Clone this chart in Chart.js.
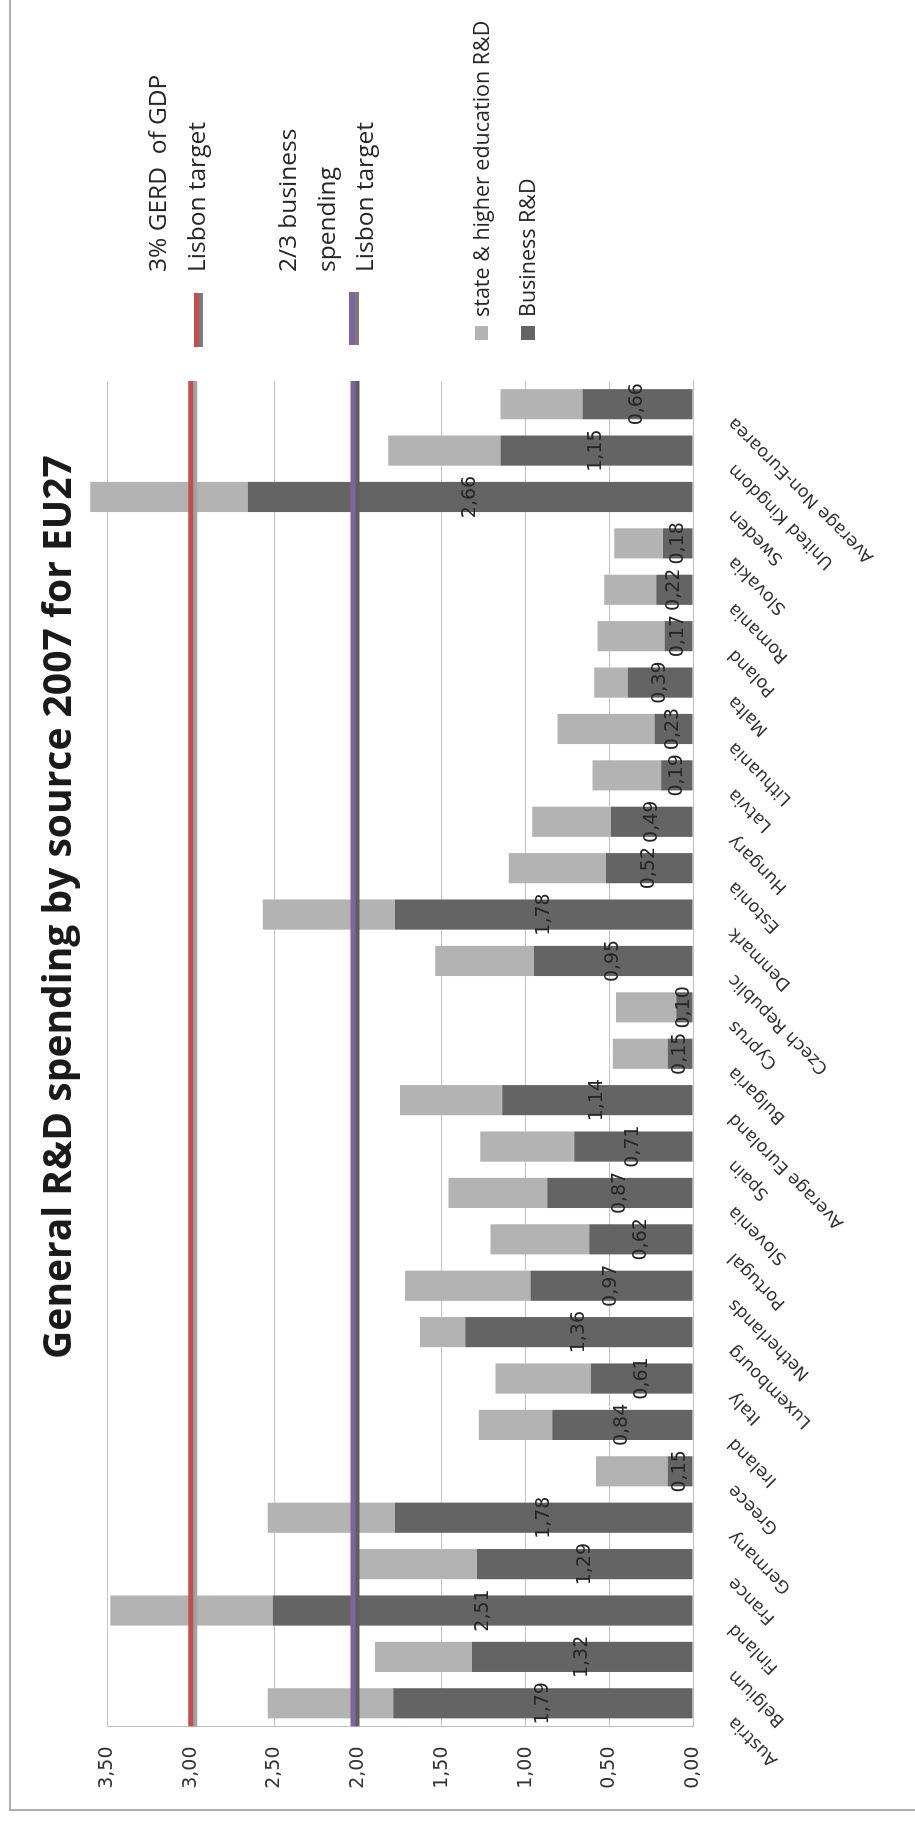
<!DOCTYPE html>
<html>
<head>
<meta charset="utf-8">
<title>General R&amp;D spending by source 2007 for EU27</title>
<script src="https://cdn.jsdelivr.net/npm/chart.js@4.4.1/dist/chart.umd.min.js"></script>
<style>
  html, body { margin: 0; padding: 0; background: #ffffff; }
  body { width: 915px; height: 1821px; overflow: hidden; position: relative; }
  /* the chart is laid out landscape and turned a quarter turn */
  #frame {
    position: absolute; left: 0; top: 0;
    width: 1821px; height: 915px;
    transform-origin: 0 0;
    transform: translate(0, 1821px) rotate(-90deg);
    background: #ffffff;
  }
  #wrap { position: absolute; left: 0; top: 0; width: 1821px; height: 915px; }
  #border {
    position: absolute; left: 10px; top: 9px; right: -6px; bottom: -6px;
    border: 2px solid #ADADAD; pointer-events: none;
  }
</style>
</head>
<body>
<div id="frame">
  <div id="wrap"><canvas id="chart"></canvas></div>
  <div id="border"></div>
</div>
<script>
// Countries and group averages, left to right
const categories = [
  'Austria', 'Belgium', 'Finland', 'France', 'Germany', 'Greece', 'Ireland',
  'Italy', 'Luxembourg', 'Netherlands', 'Portugal', 'Slovenia', 'Spain',
  'Average Euroland', 'Bulgaria', 'Cyprus', 'Czech Republic', 'Denmark',
  'Estonia', 'Hungary', 'Latvia', 'Lithuania', 'Malta', 'Poland', 'Romania',
  'Slovakia', 'Sweden', 'United Kingdom', 'Average Non-Euroarea'
];

// Business enterprise R&D, % of GDP
const businessRD = [
  1.79, 1.32, 2.51, 1.29, 1.78, 0.15, 0.84,
  0.61, 1.36, 0.97, 0.62, 0.87, 0.71,
  1.14, 0.15, 0.10, 0.95, 1.78,
  0.52, 0.49, 0.19, 0.23, 0.39, 0.17, 0.22,
  0.18, 2.66, 1.15, 0.66
];

// State & higher education R&D, % of GDP (stacked on top of business)
const stateHigherEdRD = [
  0.75, 0.58, 0.97, 0.73, 0.76, 0.43, 0.44,
  0.57, 0.27, 0.75, 0.59, 0.59, 0.56,
  0.61, 0.33, 0.36, 0.59, 0.79,
  0.58, 0.47, 0.41, 0.58, 0.20, 0.40, 0.31,
  0.29, 0.94, 0.67, 0.49
];

// Lisbon targets, % of GDP
const lisbonGerdTarget = 3.0;
const lisbonBusinessTarget = 2.03;

// Value axis tick labels
const valueTickLabels = ['0,00', '0,50', '1,00', '1,50', '2,00', '2,50', '3,00', '3,50'];

const chartTitle = 'General R&D spending by source 2007 for EU27';
const gerdTargetLines = ['3% GERD  of GDP', 'Lisbon target'];
const businessTargetLines = ['2/3 business', 'spending', 'Lisbon target'];

const COLORS = {
  business: '#646464',
  state: '#B3B3B3',
  gerd: '#C0504D',
  target: '#8064A2',
  grid: '#C4C4C4',
  text: '#262626'
};

const fmt = v => v.toFixed(2).replace('.', ',');

// Gives the target lines their offset grey shadow
const lineShadow = {
  id: 'lineShadow',
  beforeDatasetDraw(chart, args) {
    const ds = chart.data.datasets[args.index];
    if (ds.type !== 'line') return;
    const ctx = chart.ctx;
    ctx.save();
    ctx.shadowColor = ds.shadowColor;
    ctx.shadowOffsetX = 0;
    ctx.shadowOffsetY = 4;
    ctx.shadowBlur = 0;
  },
  afterDatasetDraw(chart, args) {
    if (chart.data.datasets[args.index].type === 'line') chart.ctx.restore();
  }
};

// Value labels in the middle of the business R&D segments
const barValueLabels = {
  id: 'barValueLabels',
  afterDatasetsDraw(chart) {
    const idx = chart.data.datasets.findIndex(d => d.label === 'Business R&D');
    const meta = chart.getDatasetMeta(idx);
    const ctx = chart.ctx;
    ctx.save();
    ctx.font = '19px "DejaVu Sans"';
    ctx.fillStyle = COLORS.text;
    ctx.textAlign = 'center';
    ctx.textBaseline = 'middle';
    meta.data.forEach((bar, i) => {
      const p = bar.getProps(['x', 'y', 'base'], true);
      ctx.fillText(fmt(businessRD[i]), p.x, (p.y + p.base) / 2);
    });
    ctx.restore();
  }
};

// Title and key on the right-hand side
const titleAndKey = {
  id: 'titleAndKey',
  afterDraw(chart) {
    const ctx = chart.ctx;
    ctx.save();
    ctx.fillStyle = '#1a1a1a';
    ctx.font = 'bold 39px "Open Sans"';
    ctx.textAlign = 'center';
    ctx.textBaseline = 'alphabetic';
    ctx.fillText(chartTitle, 914, 71);

    ctx.font = '24.5px "Open Sans"';
    ctx.textAlign = 'left';
    ctx.fillStyle = COLORS.text;

    // 3% GERD target
    [166, 205].forEach((y, i) => ctx.fillText(gerdTargetLines[i], 1549, y));
    ctx.fillStyle = COLORS.gerd;
    ctx.fillRect(1474, 194, 54, 5);
    ctx.fillStyle = '#7a7a7a';
    ctx.fillRect(1474, 199, 54, 4);

    // business target
    ctx.fillStyle = COLORS.text;
    [296, 335, 373].forEach((y, i) => ctx.fillText(businessTargetLines[i], 1549, y));
    ctx.fillStyle = COLORS.target;
    ctx.fillRect(1476, 349, 53, 6);
    ctx.fillStyle = '#7a7a7a';
    ctx.fillRect(1476, 355, 53, 4);

    // bar series
    ctx.fillStyle = COLORS.state;
    ctx.fillRect(1481, 475, 14, 13);
    ctx.fillStyle = COLORS.business;
    ctx.fillRect(1481, 521, 14, 14);
    ctx.font = '21.5px "Open Sans"';
    ctx.fillStyle = COLORS.text;
    ctx.fillText('state & higher education R&D', 1504, 489);
    ctx.fillText('Business R&D', 1504, 535);
    ctx.restore();
  }
};

new Chart(document.getElementById('chart'), {
  type: 'bar',
  data: {
    labels: categories,
    datasets: [
      {
        type: 'line',
        label: gerdTargetLines.join(' '),
        data: [{ x: 0, y: lisbonGerdTarget }, { x: categories.length, y: lisbonGerdTarget }],
        xAxisID: 'xLine', yAxisID: 'y',
        borderColor: COLORS.gerd, borderWidth: 5, pointRadius: 0,
        stack: 'gerdTarget', shadowColor: '#A3A3A3', order: 0
      },
      {
        type: 'line',
        label: businessTargetLines.join(' '),
        data: [{ x: 0, y: lisbonBusinessTarget }, { x: categories.length, y: lisbonBusinessTarget }],
        xAxisID: 'xLine', yAxisID: 'y',
        borderColor: COLORS.target, borderWidth: 5, pointRadius: 0,
        stack: 'businessTarget', shadowColor: '#5E5E5E', order: 0
      },
      {
        label: 'Business R&D',
        data: businessRD,
        backgroundColor: COLORS.business,
        xAxisID: 'x', yAxisID: 'y',
        stack: 'rd', order: 1, grouped: false, clip: false,
        barPercentage: 1, categoryPercentage: 0.65
      },
      {
        label: 'state & higher education R&D',
        data: stateHigherEdRD,
        backgroundColor: COLORS.state,
        xAxisID: 'x', yAxisID: 'y',
        stack: 'rd', order: 1, grouped: false, clip: false,
        barPercentage: 1, categoryPercentage: 0.65
      }
    ]
  },
  options: {
    responsive: true,
    maintainAspectRatio: false,
    animation: false,
    devicePixelRatio: 1,
    layout: { padding: { top: 107, right: 381, left: 0, bottom: 0 } },
    plugins: {
      legend: { display: false },
      tooltip: { enabled: false },
      title: { display: false }
    },
    scales: {
      x: {
        type: 'category',
        stacked: true,
        offset: true,
        grid: { display: false, drawTicks: false },
        border: { display: true, color: '#BFBFBF', width: 1 },
        ticks: {
          autoSkip: false, maxRotation: 45, minRotation: 45, padding: 31, labelOffset: -16,
          color: '#333333', font: { family: 'DejaVu Sans', size: 17.5 }
        },
        afterFit(scale) { scale.height = 222; }
      },
      xLine: {
        type: 'linear', display: false, offset: false,
        min: 0, max: categories.length,
        grid: { offset: false }
      },
      y: {
        type: 'linear',
        stacked: true,
        min: 0, max: 3.5,
        ticks: {
          stepSize: 0.5, padding: 20,
          callback: v => valueTickLabels[Math.round(v / 0.5)],
          color: '#333333', font: { family: 'DejaVu Sans', size: 19 }
        },
        grid: { color: COLORS.grid, lineWidth: 1, drawTicks: false },
        border: { display: true, color: '#BFBFBF', width: 1 },
        afterFit(scale) { scale.width = 94.5; }
      }
    }
  },
  plugins: [lineShadow, barValueLabels, titleAndKey]
});
</script>
</body>
</html>
